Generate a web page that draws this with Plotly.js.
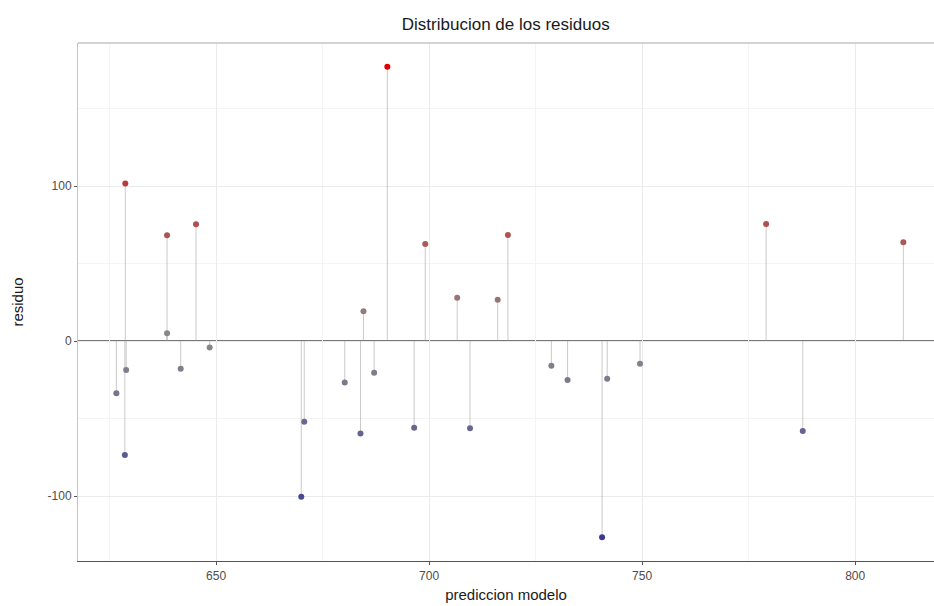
<!DOCTYPE html>
<html>
<head>
<meta charset="utf-8">
<script src="https://cdn.plot.ly/plotly-3.0.1.min.js"></script>
<style>html,body{margin:0;padding:0;background:#fff;}#chart{width:934px;height:606px;}</style>
</head>
<body>
<div id="chart"></div>
<script>
// predicted value (x) and residual (y) for each observation
const prediccion = [626.6, 628.9, 628.6, 628.7, 638.5, 638.5, 641.7, 645.3, 648.5,
  670.0, 670.7, 680.2, 683.9, 684.6, 687.1, 690.2, 696.5, 699.1, 706.6, 709.6,
  716.1, 718.5, 728.7, 732.5, 740.6, 741.8, 749.5, 779.1, 787.7, 811.3];
const residuo = [-33.7, -18.7, -73.5, 101.7, 68.2, 5.0, -17.9, 75.3, -4.1,
  -100.4, -52.0, -26.7, -59.6, 19.2, -20.4, 177.0, -55.9, 62.6, 27.9, -56.3,
  26.6, 68.4, -15.9, -25.2, -126.5, -24.3, -14.6, 75.5, -58.1, 63.7];
const xTicks = [650, 700, 750, 800];
const yTicks = [-100, 0, 100];

// stems from 0 to each residual
const stemX = [], stemY = [];
prediccion.forEach((p, i) => { stemX.push(p, p, null); stemY.push(0, residuo[i], null); });

const traces = [
  {x: stemX, y: stemY, type: 'scatter', mode: 'lines',
   line: {color: 'rgba(150,150,150,0.5)', width: 1}, hoverinfo: 'skip', showlegend: false},
  {x: prediccion, y: residuo, type: 'scatter', mode: 'markers',
   marker: {size: 6, color: residuo, cmin: -177, cmax: 177, showscale: false,
     colorscale: [[0, '#1a1a9a'], [0.5, '#8a8a8a'], [1, '#e00000']]},
   showlegend: false}
];

const layout = {
  width: 934, height: 606,
  margin: {l: 78, r: 0, t: 43, b: 45, pad: 0},
  paper_bgcolor: '#ffffff', plot_bgcolor: '#ffffff',
  font: {family: 'Liberation Sans, Arial, sans-serif', color: '#4d4d4d', size: 12},
  title: {text: 'Distribucion de los residuos', x: 0.5415, xanchor: 'center', y: 0.96, yanchor: 'middle',
    font: {size: 17, color: '#1a1a1a'}},
  xaxis: {
    range: [617.6, 818.5], tickvals: xTicks, ticktext: xTicks.map(String),
    showgrid: true, gridcolor: '#ebebeb', gridwidth: 1,
    minor: {dtick: 25, tick0: 625, showgrid: true, gridcolor: '#f4f4f4', gridwidth: 1},
    zeroline: false, showline: true, linecolor: '#555555', linewidth: 1.2,
    ticks: 'outside', ticklen: 3, tickcolor: '#555555',
    tickfont: {size: 12, color: '#4d4d4d'},
    title: {text: 'prediccion modelo', standoff: 8, font: {size: 15, color: '#1a1a1a'}}
  },
  yaxis: {
    range: [-141.9, 192.3], tickvals: yTicks, ticktext: yTicks.map(String),
    showgrid: true, gridcolor: '#ebebeb', gridwidth: 1,
    minor: {dtick: 50, tick0: -150, showgrid: true, gridcolor: '#f4f4f4', gridwidth: 1},
    zeroline: false, showline: true, linecolor: '#c4c4c4', linewidth: 1,
    ticks: 'outside', ticklen: 3, tickcolor: '#555555',
    tickfont: {size: 12, color: '#4d4d4d'},
    title: {text: 'residuo', standoff: 20, font: {size: 15, color: '#1a1a1a'}}
  },
  shapes: [
    {type: 'line', xref: 'paper', yref: 'paper', x0: 0, x1: 1, y0: 1, y1: 1,
     line: {color: '#c4c4c4', width: 1.5}},
    {type: 'line', xref: 'paper', yref: 'y', x0: 0, x1: 1, y0: 0, y1: 0,
     line: {color: '#4a4a4a', width: 1.5}, layer: 'below'}
  ]
};

Plotly.newPlot('chart', traces, layout, {displayModeBar: false, staticPlot: true});
</script>
</body>
</html>
